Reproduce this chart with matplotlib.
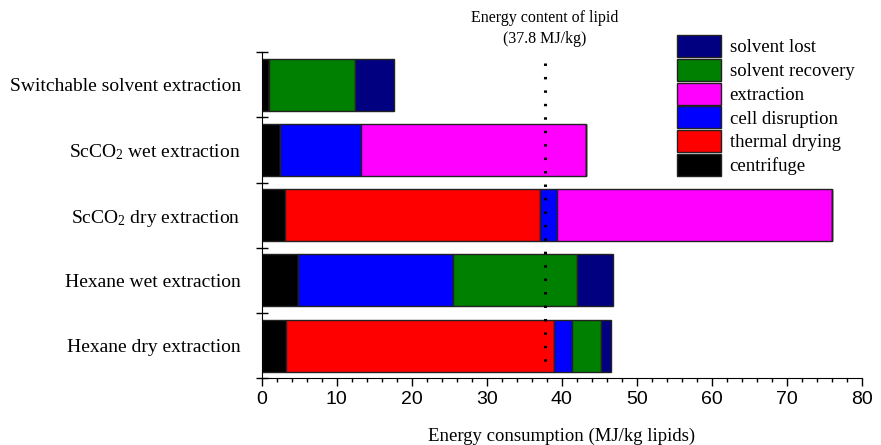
import matplotlib.pyplot as plt
import numpy as np

plt.rcParams['mathtext.fontset'] = 'custom'
plt.rcParams['mathtext.rm'] = 'Liberation Serif'
plt.rcParams['mathtext.it'] = 'Liberation Serif:italic'

categories = ['Hexane dry extraction', 'Hexane wet extraction',
              'ScCO$_2$ dry extraction', 'ScCO$_2$ wet extraction',
              'Switchable solvent extraction']
stages = ['centrifuge', 'thermal drying', 'cell disruption',
          'extraction', 'solvent recovery', 'solvent lost']
colors = ['#000000', '#ff0000', '#0000ff', '#ff00ff', '#008000', '#000080']

# MJ/kg lipids, one list per stage, in category order
centrifuge = [3.3, 4.8, 3.1, 2.5, 1.0]
thermal_drying = [35.7, 0.0, 34.0, 0.0, 0.0]
cell_disruption = [2.4, 20.7, 2.3, 10.8, 0.0]
extraction = [0.0, 0.0, 36.7, 29.9, 0.0]
solvent_recovery = [3.9, 16.5, 0.0, 0.0, 11.4]
solvent_lost = [1.3, 4.9, 0.0, 0.0, 5.3]
lipid_energy = 37.8

series = [centrifuge, thermal_drying, cell_disruption,
          extraction, solvent_recovery, solvent_lost]

fig = plt.figure(figsize=(8.81, 4.45), dpi=100)
ax = fig.add_axes([0.297, 0.150, 0.681, 0.733])

y = np.arange(len(categories))
left = np.zeros(len(categories))
handles = []
for vals, name, c in zip(series, stages, colors):
    vals = np.array(vals)
    b = ax.barh(y, vals, left=left, height=0.8, color=c,
                edgecolor='#222222', linewidth=1.0, label=name)
    handles.append(b)
    left += vals

# dotted reference line, drawn top-down so a dot sits at the top
ax.plot([lipid_energy, lipid_energy], [4.33, -0.4], color='black',
        lw=2.2, ls=(0, (0.8, 3.6)), zorder=5)
ax.text(lipid_energy, 4.58, 'Energy content of lipid\n(37.8 MJ/kg)',
        ha='center', va='bottom', fontsize=11.5, family='Liberation Serif',
        linespacing=1.4)

ax.set_xlim(0, 80)
ax.set_ylim(-0.5, 4.5)
ax.spines['top'].set_visible(False)
ax.spines['right'].set_visible(False)

ax.set_xticks(np.arange(0, 81, 10))
ax.set_xticks(np.arange(0, 81, 2), minor=True)
ax.tick_params(axis='x', which='major', direction='out', length=6, width=1,
               labelsize=14)
ax.tick_params(axis='x', which='minor', direction='out', length=3, width=1)
for lab in ax.get_xticklabels():
    lab.set_family('Liberation Sans')

ax.set_yticks(np.arange(-0.5, 4.6, 1.0))
ax.set_yticklabels([])
ax.tick_params(axis='y', which='major', direction='inout', length=8, width=1)
ax.set_yticks(y, minor=True)
ax.set_yticklabels(categories, minor=True, family='Liberation Serif',
                   fontsize=14)
ax.tick_params(axis='y', which='minor', length=0, pad=15)

ax.set_xlabel('Energy consumption (MJ/kg lipids)', family='Liberation Serif',
              fontsize=13.5, labelpad=14)

ax.legend(handles[::-1], stages[::-1], loc='upper left',
          bbox_to_anchor=(0.693, 1.052), frameon=False,
          prop={'family': 'Liberation Serif', 'size': 13.5},
          handlelength=2.35, handleheight=1.42, handletextpad=0.43,
          labelspacing=0.1, borderaxespad=0, borderpad=0)

plt.savefig('out.png', dpi=100)
plt.close()
